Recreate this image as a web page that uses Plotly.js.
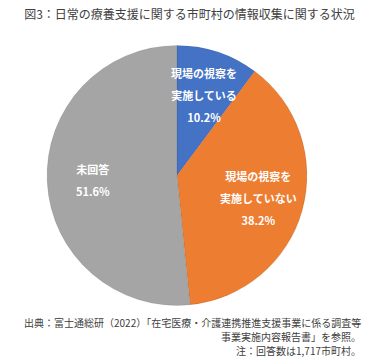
<!DOCTYPE html>
<html>
<head>
<meta charset="utf-8">
<script src="https://cdn.plot.ly/plotly-3.0.1.min.js"></script>
<style>html,body{margin:0;padding:0;background:#fff;}#chart{width:379px;height:364px;}</style>
</head>
<body>
<div id="chart"></div>
<script>
const categories = ["現場の視察を実施している", "現場の視察を実施していない", "未回答"];
const sliceLabels = [["現場の視察を", "実施している"], ["現場の視察を", "実施していない"], ["未回答"]];
const values = [10.2, 38.2, 51.6];
const colors = ["#4472C4", "#ED7D31", "#A5A5A5"];
const titleText = "図3：日常の療養支援に関する市町村の情報収集に関する状況";
const sourceLines = [
  "出典：富士通総研（2022）「在宅医療・介護連携推進支援事業に係る調査等",
  "事業実施内容報告書」を参照。",
  "注：回答数は1,717市町村。"
];

const W = 379, H = 364;
const font = "'Noto Sans CJK JP', 'Noto Sans', sans-serif";
const domX = [0.124, 0.81], domY = [0.16, 0.876];
// pie centre and radius in pixels, derived from the domain
const cx = (domX[0] + domX[1]) / 2 * W;
const cyUp = (domY[0] + domY[1]) / 2 * H;
const R = Math.min((domX[1] - domX[0]) * W, (domY[1] - domY[0]) * H) / 2;
const labelRadius = 0.65;

const sp = s => "<span style='font-size:11px'>" + s + "</span>";
const total = values.reduce((a, b) => a + b, 0);
let cum = 0;
const labelAnns = values.map((v, i) => {
  const mid = (cum + v / 2) / total * 2 * Math.PI;
  cum += v;
  const px = cx + labelRadius * R * Math.sin(mid);
  const py = cyUp + labelRadius * R * Math.cos(mid);
  return {
    text: sliceLabels[i].concat([v.toFixed(1) + "%"]).map(sp).join("<br>"),
    showarrow: false, xref: "paper", yref: "paper",
    x: px / W, y: py / H, xanchor: "center", yanchor: "middle", align: "center",
    font: {family: font, size: 17, color: "#ffffff", weight: "bold"}
  };
});

const trace = {
  type: "pie",
  labels: categories,
  values: values,
  textinfo: "none",
  sort: false,
  direction: "clockwise",
  rotation: 0,
  marker: {colors: colors, line: {color: "rgba(0,0,0,0.08)", width: 1}},
  hoverinfo: "none",
  domain: {x: domX, y: domY}
};

const layout = {
  width: W, height: H,
  margin: {l: 0, r: 0, t: 0, b: 0},
  paper_bgcolor: "#ffffff",
  showlegend: false,
  title: {text: titleText, font: {family: font, size: 12, color: "#404040"},
          x: 0.5, xanchor: "center", y: 1 - 15/H, yanchor: "middle", yref: "paper"},
  annotations: labelAnns.concat(sourceLines.map((s, i) => ({
    text: s, showarrow: false, xref: "paper", yref: "paper",
    x: 362/W, y: 1 - (322 + i * 14)/H, xanchor: "right", yanchor: "middle", align: "right",
    borderpad: 0,
    font: {family: font, size: 10, color: "#404040"}
  })))
};

Plotly.newPlot("chart", [trace], layout, {displayModeBar: false, staticPlot: true});
</script>
</body>
</html>
